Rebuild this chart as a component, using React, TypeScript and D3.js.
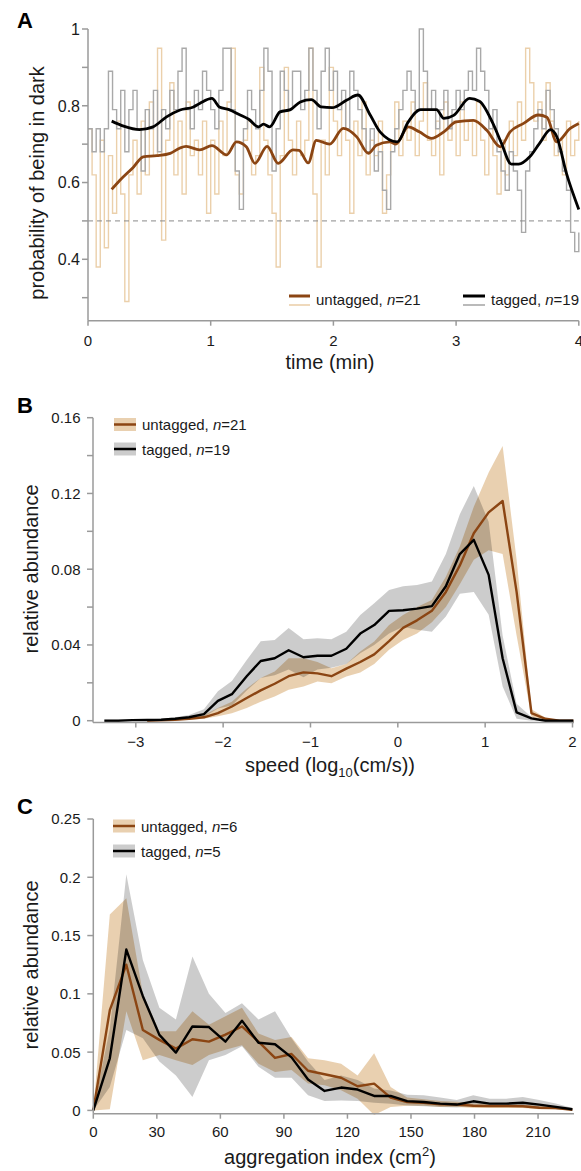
import React from 'react';
import * as d3 from 'd3';

const FONT = "'Liberation Sans', Arial, Helvetica, sans-serif";
const BROWN = '#8B4513';
const TAN = 'rgb(222,184,135)';
const TAN_RAW = '#ebd0ab';
const GRAY_RAW = '#a9a9a9';
const AXIS = '#9a9a9a';
const TXT = '#1a1a1a';

// ---------- Panel A: probability of being in dark ----------
const A_STEP_MIN = 1 / 30; // 2-s bins
const A_UNTAGGED_RAW = [
  0.74, 0.62, 0.38, 0.71, 0.43, 0.67, 0.52, 0.76, 0.57, 0.29,
  0.62, 0.71, 0.57, 0.76, 0.62, 0.81, 0.67, 0.95, 0.45, 0.71,
  0.86, 0.62, 0.76, 0.57, 0.81, 0.67, 0.71, 0.62, 0.76, 0.52,
  0.71, 0.57, 0.76, 0.67, 0.81, 0.95, 0.62, 0.57, 0.71, 0.76,
  0.62, 0.67, 0.90, 0.71, 0.62, 0.52, 0.38, 0.67, 0.90, 0.71,
  0.62, 0.76, 0.67, 0.71, 0.95, 0.57, 0.38, 0.71, 0.62, 0.90,
  0.76, 0.67, 0.81, 0.71, 0.52, 0.76, 0.67, 0.81, 0.62, 0.71,
  0.67, 0.76, 0.52, 0.62, 0.71, 0.81, 0.67, 0.76, 0.71, 0.81,
  0.67, 0.76, 0.86, 0.71, 0.67, 0.76, 0.62, 0.81, 0.71, 0.76,
  0.67, 0.81, 0.71, 0.76, 0.67, 0.81, 0.71, 0.62, 0.76, 0.67,
  0.57, 0.71, 0.62, 0.76, 0.67, 0.81, 0.71, 0.95, 0.86, 0.76,
  0.81, 0.71, 0.86, 0.76, 0.67, 0.71, 0.62, 0.76, 0.67, 0.71,
  0.76,
];
const A_TAGGED_RAW = [
  0.74, 0.68, 0.74, 0.68, 0.74, 0.89, 0.79, 0.74, 0.84, 0.68,
  0.79, 0.84, 0.74, 0.63, 0.79, 0.74, 0.84, 0.68, 0.79, 0.74,
  0.84, 0.79, 0.89, 0.95, 0.79, 0.74, 0.84, 0.79, 0.89, 0.84,
  0.79, 0.74, 0.84, 0.95, 0.95, 0.79, 0.63, 0.53, 0.74, 0.84,
  0.79, 0.74, 0.84, 0.95, 0.89, 0.63, 0.74, 0.89, 0.84, 0.79,
  0.89, 0.89, 0.79, 0.84, 0.95, 0.84, 0.74, 0.89, 0.95, 0.84,
  0.89, 0.79, 0.84, 0.74, 0.89, 0.84, 0.79, 0.74, 0.68, 0.74,
  0.63, 0.68, 0.58, 0.53, 0.68, 0.74, 0.79, 0.84, 0.89, 0.84,
  0.79, 1.0, 0.89, 0.79, 0.84, 0.74, 0.79, 0.84, 0.74, 0.79,
  0.84, 0.79, 0.84, 0.89, 0.84, 0.95, 0.89, 0.84, 0.74, 0.79,
  0.68, 0.63, 0.58, 0.68, 0.63, 0.58, 0.47, 0.63, 0.68, 0.74,
  0.79, 0.74, 0.84, 0.79, 0.74, 0.68, 0.63, 0.58, 0.47, 0.42,
  0.47,
];
const A_SMOOTH_T_U = [0.193, 0.26, 0.37, 0.45, 0.56, 0.67, 0.75, 0.8, 0.91, 1.01, 1.13, 1.21, 1.29, 1.36, 1.46, 1.55, 1.67, 1.72, 1.795, 1.86, 1.97, 2.08, 2.19, 2.285, 2.35, 2.46, 2.51, 2.61, 2.7, 2.8, 2.9, 3.0, 3.14, 3.25, 3.36, 3.44, 3.55, 3.67, 3.74, 3.82, 3.93, 4.0];
const A_SMOOTH_V_U = [0.582, 0.606, 0.64, 0.667, 0.67, 0.676, 0.69, 0.694, 0.685, 0.696, 0.672, 0.706, 0.693, 0.65, 0.694, 0.65, 0.685, 0.684, 0.651, 0.71, 0.7, 0.741, 0.719, 0.676, 0.697, 0.706, 0.7, 0.745, 0.732, 0.715, 0.732, 0.758, 0.762, 0.736, 0.693, 0.732, 0.754, 0.776, 0.77, 0.706, 0.741, 0.754];
const A_SMOOTH_T_T = [0.193, 0.29, 0.42, 0.53, 0.64, 0.75, 0.86, 0.91, 1.01, 1.07, 1.15, 1.24, 1.31, 1.39, 1.43, 1.48, 1.565, 1.65, 1.73, 1.82, 1.9, 1.99, 2.11, 2.2, 2.3, 2.38, 2.52, 2.61, 2.71, 2.84, 2.9, 2.98, 3.11, 3.19, 3.3, 3.37, 3.45, 3.51, 3.6, 3.68, 3.77, 3.82, 3.9, 4.0];
const A_SMOOTH_V_T = [0.76, 0.747, 0.738, 0.745, 0.771, 0.789, 0.797, 0.806, 0.819, 0.797, 0.79, 0.776, 0.765, 0.745, 0.752, 0.745, 0.784, 0.79, 0.81, 0.816, 0.797, 0.795, 0.815, 0.828, 0.776, 0.732, 0.706, 0.758, 0.79, 0.79, 0.767, 0.775, 0.819, 0.812, 0.754, 0.702, 0.648, 0.648, 0.667, 0.702, 0.738, 0.72, 0.623, 0.53];
const A_XTICKS = [0, 1, 2, 3, 4];
const A_YTICKS = [0.3, 0.4, 0.5, 0.6, 0.7, 0.8, 0.9, 1.0];
const A_YLABELS = [0.4, 0.6, 0.8, 1.0];

// ---------- Panel B: speed distribution ----------
const B_X = [-3.36, -3.2, -3.04, -2.87, -2.71, -2.55, -2.39, -2.22, -2.06, -1.9, -1.73, -1.57, -1.41, -1.25, -1.08, -0.92, -0.76, -0.59, -0.43, -0.27, -0.1, 0.06, 0.22, 0.39, 0.55, 0.71, 0.87, 1.04, 1.2, 1.36, 1.53, 1.69, 1.85, 2.01];
const B_TAG_MEAN = [0, 0, 0.0003, 0.0004, 0.0005, 0.001, 0.0018, 0.0035, 0.0105, 0.014, 0.0235, 0.0315, 0.033, 0.0372, 0.0335, 0.0343, 0.0343, 0.038, 0.046, 0.0505, 0.058, 0.0583, 0.0592, 0.0605, 0.071, 0.088, 0.0955, 0.077, 0.033, 0.0044, 0.0012, 0, 0, 0];
const B_TAG_HI = [0.0005, 0.0005, 0.0007, 0.0008, 0.001, 0.0018, 0.003, 0.006, 0.0155, 0.021, 0.032, 0.042, 0.0426, 0.049, 0.043, 0.0435, 0.043, 0.047, 0.0558, 0.062, 0.069, 0.071, 0.0716, 0.0735, 0.088, 0.109, 0.124, 0.105, 0.045, 0.009, 0.002, 0.0005, 0, 0];
const B_TAG_LO = [0, 0, 0, 0, 0.0002, 0.0005, 0.001, 0.002, 0.0065, 0.008, 0.016, 0.0225, 0.024, 0.027, 0.023, 0.027, 0.028, 0.03, 0.0356, 0.04, 0.046, 0.0496, 0.048, 0.047, 0.055, 0.067, 0.068, 0.056, 0.018, 0.001, 0, 0, 0, 0];
const B_UNT_X = [-2.87, -2.71, -2.55, -2.39, -2.22, -2.06, -1.9, -1.73, -1.57, -1.41, -1.25, -1.08, -0.92, -0.76, -0.59, -0.43, -0.27, -0.1, 0.06, 0.22, 0.39, 0.55, 0.71, 0.87, 1.04, 1.2, 1.36, 1.53, 1.69, 1.85, 2.01];
const B_UNT_MEAN = [0, 0.0002, 0.0005, 0.001, 0.0018, 0.004, 0.0075, 0.012, 0.016, 0.0195, 0.0235, 0.0255, 0.025, 0.0235, 0.0275, 0.031, 0.035, 0.042, 0.049, 0.053, 0.058, 0.068, 0.082, 0.099, 0.11, 0.116, 0.068, 0.004, 0.001, 0, 0];
const B_UNT_HI = [0, 0.0004, 0.0008, 0.0015, 0.003, 0.0067, 0.01, 0.017, 0.0225, 0.026, 0.033, 0.033, 0.031, 0.0277, 0.03, 0.0365, 0.0418, 0.0505, 0.0558, 0.06, 0.0637, 0.076, 0.092, 0.113, 0.131, 0.145, 0.085, 0.006, 0.0015, 0, 0];
const B_UNT_LO = [0, 0, 0.0002, 0.0005, 0.001, 0.0023, 0.004, 0.0067, 0.01, 0.0128, 0.0163, 0.018, 0.0207, 0.0198, 0.0233, 0.0254, 0.03, 0.0374, 0.0426, 0.046, 0.052, 0.06, 0.072, 0.085, 0.09, 0.088, 0.045, 0.002, 0, 0, 0];
const B_XTICKS = [-3, -2, -1, 0, 1, 2];
const B_YTICKS = [0, 0.02, 0.04, 0.06, 0.08, 0.1, 0.12, 0.14, 0.16];
const B_YLABELS = [0, 0.04, 0.08, 0.12, 0.16];

// ---------- Panel C: aggregation index ----------
const C_X = [0, 7.8, 15.6, 23.4, 31.2, 39, 46.8, 54.6, 62.4, 70.2, 78, 85.8, 93.6, 101.4, 109.2, 117, 124.8, 132.6, 140.4, 148.2, 156, 163.8, 171.6, 179.4, 187.2, 195, 202.8, 210.6, 218.4, 226.2];
const C_TAG_MEAN = [0, 0.0447, 0.138, 0.098, 0.0648, 0.0496, 0.072, 0.0715, 0.059, 0.077, 0.058, 0.0568, 0.0455, 0.0265, 0.0167, 0.0196, 0.0179, 0.0124, 0.0124, 0.008, 0.0072, 0.0058, 0.005, 0.0078, 0.0058, 0.0058, 0.0066, 0.005, 0.003, 0.001];
const C_TAG_HI = [0, 0.07, 0.2025, 0.129, 0.088, 0.078, 0.132, 0.1, 0.0836, 0.092, 0.078, 0.085, 0.062, 0.042, 0.026, 0.03, 0.026, 0.0187, 0.017, 0.0135, 0.013, 0.011, 0.009, 0.013, 0.01, 0.01, 0.0115, 0.009, 0.006, 0.002];
const C_TAG_LO = [0, 0.02, 0.069, 0.062, 0.042, 0.03, 0.0115, 0.043, 0.0475, 0.055, 0.0375, 0.028, 0.028, 0.013, 0.008, 0.0086, 0.008, 0.0066, 0.0058, 0.0043, 0.0035, 0.003, 0.0025, 0.004, 0.003, 0.003, 0.003, 0.002, 0.001, 0];
const C_UNT_MEAN = [0, 0.086, 0.125, 0.069, 0.0605, 0.053, 0.061, 0.059, 0.065, 0.072, 0.059, 0.045, 0.0484, 0.034, 0.031, 0.028, 0.0207, 0.023, 0.011, 0.0072, 0.0066, 0.0052, 0.005, 0.004, 0.0037, 0.0037, 0.0035, 0.0023, 0.002, 0.0005];
const C_UNT_HI = [0, 0.168, 0.182, 0.1, 0.068, 0.068, 0.085, 0.0735, 0.0807, 0.088, 0.066, 0.0605, 0.063, 0.0447, 0.043, 0.04, 0.03, 0.049, 0.02, 0.011, 0.0095, 0.008, 0.0075, 0.006, 0.006, 0.0055, 0.005, 0.004, 0.003, 0.001];
const C_UNT_LO = [0, 0.001, 0.085, 0.043, 0.0475, 0.043, 0.039, 0.0475, 0.052, 0.056, 0.04, 0.033, 0.0346, 0.023, 0.0216, 0.0173, 0.01, -0.004, 0.003, 0.004, 0.004, 0.003, 0.003, 0.002, 0.002, 0.002, 0.002, 0.001, 0.001, 0];
const C_XTICKS = [0, 30, 60, 90, 120, 150, 180, 210];
const C_YTICKS = [0, 0.05, 0.1, 0.15, 0.2, 0.25];

const fmtMinus = (v: number) => (v < 0 ? '\u2212' + Math.abs(v) : String(v));

function YAxis({ scale, x, yTop, yBot, ticks, labels, fontSize, labelX, fmt }: any) {
  return (
    <g>
      <line x1={x} x2={x} y1={yTop} y2={yBot} stroke={AXIS} strokeWidth={1.5} />
      {ticks.map((t: number) => (
        <line key={'t' + t} x1={x - 6} x2={x} y1={scale(t)} y2={scale(t)} stroke={AXIS} strokeWidth={1.5} />
      ))}
      {labels.map((t: number) => (
        <text key={'l' + t} x={labelX} y={scale(t) + fontSize * 0.36} textAnchor="end" fontSize={fontSize} fill={TXT} fontFamily={FONT}>
          {fmt(t)}
        </text>
      ))}
    </g>
  );
}

function XAxis({ scale, y, xLeft, xRight, ticks, fontSize, labelY, fmt }: any) {
  return (
    <g>
      <line x1={xLeft} x2={xRight} y1={y} y2={y} stroke={AXIS} strokeWidth={1.5} />
      {ticks.map((t: number) => (
        <line key={'t' + t} x1={scale(t)} x2={scale(t)} y1={y} y2={y + 5} stroke={AXIS} strokeWidth={1.5} />
      ))}
      {ticks.map((t: number) => (
        <text key={'l' + t} x={scale(t)} y={labelY} textAnchor="middle" fontSize={fontSize} fill={TXT} fontFamily={FONT}>
          {fmt(t)}
        </text>
      ))}
    </g>
  );
}

function PanelA() {
  const x = d3.scaleLinear().domain([0, 4]).range([88, 578.8]);
  const y = d3.scaleLinear().domain([0.24, 1]).range([320.7, 29]);
  const rawLine = d3
    .line<number>()
    .x((_, i) => x(i * A_STEP_MIN))
    .y((d) => y(d))
    .curve(d3.curveStepAfter);
  const smLine = d3
    .line<[number, number]>()
    .x((d) => x(d[0]))
    .y((d) => y(d[1]))
    .curve(d3.curveMonotoneX);
  const smU = A_SMOOTH_T_U.map((t, i) => [t, A_SMOOTH_V_U[i]] as [number, number]);
  const smT = A_SMOOTH_T_T.map((t, i) => [t, A_SMOOTH_V_T[i]] as [number, number]);
  return (
    <g>
      <text x={17} y={28} fontSize={22} fontWeight="bold" fontFamily={FONT} fill="#000">A</text>
      <path d={rawLine(A_UNTAGGED_RAW) || ''} fill="none" stroke={TAN_RAW} strokeWidth={1.4} />
      <path d={rawLine(A_TAGGED_RAW) || ''} fill="none" stroke={GRAY_RAW} strokeWidth={1.4} />
      <line x1={x(0)} x2={x(4)} y1={y(0.5)} y2={y(0.5)} stroke="#8a8a8a" strokeWidth={1} strokeDasharray="5,4" />
      <path d={smLine(smU) || ''} fill="none" stroke={BROWN} strokeWidth={2.8} strokeLinejoin="round" />
      <path d={smLine(smT) || ''} fill="none" stroke="#000" strokeWidth={2.8} strokeLinejoin="round" />
      <YAxis scale={y} x={88} yTop={29} yBot={320.7} ticks={A_YTICKS} labels={A_YLABELS} fontSize={16} labelX={80} fmt={(v: number) => String(v)} />
      <XAxis scale={x} y={320.7} xLeft={88} xRight={578.8} ticks={A_XTICKS} fontSize={15} labelY={345.5} fmt={String} />
      <text x={330} y={369} textAnchor="middle" fontSize={20} fontFamily={FONT} fill={TXT}>time (min)</text>
      <text transform="translate(44,183) rotate(-90)" textAnchor="middle" fontSize={20} fontFamily={FONT} fill={TXT}>probability of being in dark</text>
      {/* legend */}
      <line x1={289} x2={310} y1={296} y2={296} stroke={BROWN} strokeWidth={3} />
      <line x1={289} x2={310} y1={305} y2={305} stroke={TAN_RAW} strokeWidth={1.6} />
      <text x={316} y={304.5} fontSize={15} fontFamily={FONT} fill={TXT}>untagged, <tspan fontStyle="italic">n</tspan>=21</text>
      <line x1={463} x2={485} y1={296} y2={296} stroke="#000" strokeWidth={3} />
      <line x1={463} x2={485} y1={305} y2={305} stroke={GRAY_RAW} strokeWidth={1.6} />
      <text x={491} y={304.5} fontSize={15} fontFamily={FONT} fill={TXT}>tagged, <tspan fontStyle="italic">n</tspan>=19</text>
    </g>
  );
}

function BandLegend({ x, y, label, n, fill, fillOpacity, lineColor }: any) {
  return (
    <g>
      <rect x={x} y={y - 6.5} width={22} height={13} fill={fill} fillOpacity={fillOpacity} />
      <line x1={x} x2={x + 22} y1={y} y2={y} stroke={lineColor} strokeWidth={2.5} />
      <text x={x + 28} y={y + 5.5} fontSize={15} fontFamily={FONT} fill={TXT}>
        {label}, <tspan fontStyle="italic">n</tspan>={n}
      </text>
    </g>
  );
}

function PanelB() {
  const x = d3.scaleLinear().domain([-3.49, 2]).range([93, 572.5]);
  const y = d3.scaleLinear().domain([0, 0.16]).range([720.7, 417.7]);
  const area = (xs: number[], lo: number[], hi: number[]) =>
    d3
      .area<number>()
      .x((_, i) => x(xs[i]))
      .y0((_, i) => y(lo[i]))
      .y1((_, i) => y(hi[i]))(xs) || '';
  const line = (xs: number[], vs: number[]) =>
    d3
      .line<number>()
      .x((_, i) => x(xs[i]))
      .y((d) => y(d))(vs) || '';
  return (
    <g>
      <text x={17} y={413} fontSize={22} fontWeight="bold" fontFamily={FONT} fill="#000">B</text>
      <path d={area(B_UNT_X, B_UNT_LO, B_UNT_HI)} fill={TAN} fillOpacity={0.66} />
      <path d={area(B_X, B_TAG_LO, B_TAG_HI)} fill="#000" fillOpacity={0.2} />
      <path d={line(B_UNT_X, B_UNT_MEAN)} fill="none" stroke={BROWN} strokeWidth={2.4} strokeLinejoin="round" />
      <path d={line(B_X, B_TAG_MEAN)} fill="none" stroke="#000" strokeWidth={2.4} strokeLinejoin="round" />
      <YAxis scale={y} x={93} yTop={417.7} yBot={722.5} ticks={B_YTICKS} labels={B_YLABELS} fontSize={15} labelX={80.5} fmt={(v: number) => String(v)} />
      <XAxis scale={x} y={722.5} xLeft={93} xRight={574} ticks={B_XTICKS} fontSize={15} labelY={747} fmt={fmtMinus} />
      <text x={330} y={772} textAnchor="middle" fontSize={20} fontFamily={FONT} fill={TXT}>
        speed (log<tspan fontSize={13} dy={5}>10</tspan><tspan dy={-5}>(cm/s))</tspan>
      </text>
      <text transform="translate(38,569) rotate(-90)" textAnchor="middle" fontSize={20} fontFamily={FONT} fill={TXT}>relative abundance</text>
      <BandLegend x={114} y={424.5} label="untagged" n={21} fill={TAN} fillOpacity={0.66} lineColor={BROWN} />
      <BandLegend x={114} y={449} label="tagged" n={19} fill="#000" fillOpacity={0.2} lineColor="#000" />
    </g>
  );
}

function PanelC() {
  const x = d3.scaleLinear().domain([0, 226.5]).range([93.3, 573]);
  const y = d3.scaleLinear().domain([0, 0.25]).range([1110.4, 819]);
  const area = (lo: number[], hi: number[]) =>
    d3
      .area<number>()
      .x((d) => x(d))
      .y0((_, i) => y(lo[i]))
      .y1((_, i) => y(hi[i]))(C_X) || '';
  const line = (vs: number[]) =>
    d3
      .line<number>()
      .x((_, i) => x(C_X[i]))
      .y((d) => y(d))(vs) || '';
  return (
    <g>
      <text x={17} y={814} fontSize={22} fontWeight="bold" fontFamily={FONT} fill="#000">C</text>
      <path d={area(C_UNT_LO, C_UNT_HI)} fill={TAN} fillOpacity={0.66} />
      <path d={area(C_TAG_LO, C_TAG_HI)} fill="#000" fillOpacity={0.2} />
      <path d={line(C_UNT_MEAN)} fill="none" stroke={BROWN} strokeWidth={2.4} strokeLinejoin="round" />
      <path d={line(C_TAG_MEAN)} fill="none" stroke="#000" strokeWidth={2.4} strokeLinejoin="round" />
      <YAxis scale={y} x={93.3} yTop={819} yBot={1113.7} ticks={C_YTICKS} labels={C_YTICKS} fontSize={15} labelX={80.5} fmt={(v: number) => String(v)} />
      <XAxis scale={x} y={1113.7} xLeft={93.3} xRight={574} ticks={C_XTICKS} fontSize={15} labelY={1136.5} fmt={String} />
      <text x={330} y={1163.5} textAnchor="middle" fontSize={20} fontFamily={FONT} fill={TXT}>
        aggregation index (cm<tspan fontSize={13} dy={-8}>2</tspan><tspan dy={8}>)</tspan>
      </text>
      <text transform="translate(38,965) rotate(-90)" textAnchor="middle" fontSize={20} fontFamily={FONT} fill={TXT}>relative abundance</text>
      <BandLegend x={113} y={826} label="untagged" n={6} fill={TAN} fillOpacity={0.66} lineColor={BROWN} />
      <BandLegend x={113} y={851} label="tagged" n={5} fill="#000" fillOpacity={0.2} lineColor="#000" />
    </g>
  );
}

export default function App() {
  return (
    <svg width={581} height={1171} style={{ position: 'absolute', left: 0, top: 0, background: '#fff' }}>
      <rect x={0} y={0} width={581} height={1171} fill="#fff" />
      <PanelA />
      <PanelB />
      <PanelC />
    </svg>
  );
}
